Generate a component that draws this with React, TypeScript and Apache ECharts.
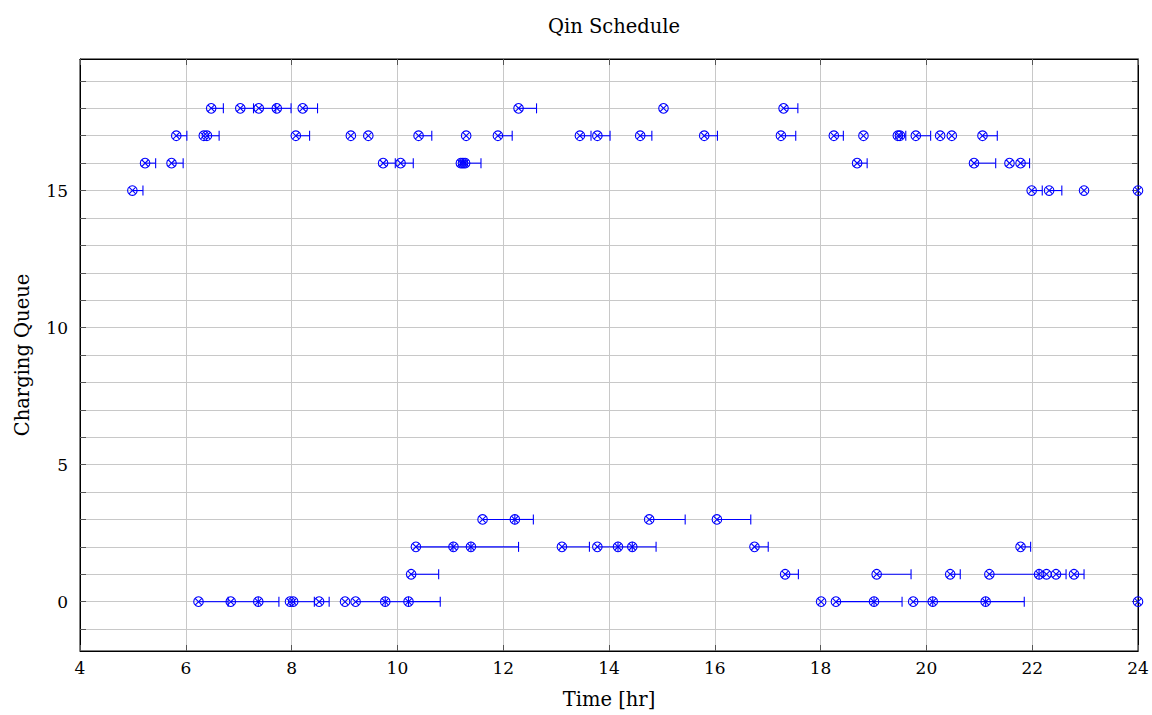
import React, { useEffect, useRef } from "react";
import * as echarts from "echarts";

// Each entry: [start time (hr), end time (hr)] for a given charging queue
const queue0: [number, number][] = [
  [6.24, 6.8], [6.85, 7.37], [7.37, 7.76], [7.97, 8.43], [8.03, 8.03],
  [8.52, 8.71], [9.01, 9.01], [9.21, 9.77], [9.77, 10.21], [10.21, 10.81],
  [18.01, 18.01], [18.29, 19.01], [19.01, 19.54], [19.75, 20.12],
  [20.12, 21.12], [21.12, 21.85], [24.0, 24.0],
];
const queue1: [number, number][] = [
  [10.26, 10.78], [17.33, 17.58], [19.06, 19.71], [20.45, 20.64],
  [21.19, 22.13], [22.13, 22.13], [22.27, 22.27], [22.45, 22.64], [22.79, 22.98],
];
const queue2: [number, number][] = [
  [10.35, 11.05], [11.06, 11.39], [11.39, 12.29], [13.11, 13.63],
  [13.78, 14.17], [14.17, 14.44], [14.44, 14.89], [16.75, 17.01], [21.78, 21.97],
];
const queue3: [number, number][] = [
  [11.61, 12.22], [12.22, 12.57], [14.76, 15.44], [16.04, 16.68],
];
const queue15: [number, number][] = [
  [4.99, 5.19], [21.99, 22.19], [22.32, 22.56], [22.98, 22.98], [24.0, 24.0],
];
const queue16: [number, number][] = [
  [5.23, 5.43], [5.73, 5.95], [9.73, 9.96], [10.06, 10.3], [11.2, 11.2],
  [11.24, 11.24], [11.28, 11.58], [18.69, 18.88], [20.9, 21.31],
  [21.57, 21.57], [21.78, 21.95],
];
const queue17: [number, number][] = [
  [5.82, 6.02], [6.34, 6.34], [6.4, 6.63], [8.08, 8.34], [9.12, 9.12],
  [9.45, 9.45], [10.4, 10.65], [11.3, 11.3], [11.9, 12.17], [13.45, 13.66],
  [13.78, 14.02], [14.59, 14.81], [15.8, 16.05], [17.25, 17.53],
  [18.25, 18.43], [18.81, 18.81], [19.46, 19.46], [19.5, 19.61],
  [19.8, 20.08], [20.26, 20.26], [20.48, 20.48], [21.06, 21.34],
];
const queue18: [number, number][] = [
  [6.48, 6.71], [7.03, 7.28], [7.38, 7.7], [7.72, 7.99], [8.21, 8.49],
  [12.29, 12.63], [15.03, 15.03], [17.3, 17.57],
];

const queues: [number, [number, number][]][] = [
  [0, queue0], [1, queue1], [2, queue2], [3, queue3],
  [15, queue15], [16, queue16], [17, queue17], [18, queue18],
];

const xTicks = [4, 6, 8, 10, 12, 14, 16, 18, 20, 22, 24];
const yLabelValues = [0, 5, 10, 15];
const yGridValues = [-1, 0, 1, 2, 3, 4, 5, 6, 7, 8, 9, 10, 11, 12, 13, 14, 15, 16, 17, 18, 19];

const FONT = "'DejaVu Serif', 'Liberation Serif', serif";
const BLUE = "#0000ff";

export default function App() {
  const ref = useRef<HTMLDivElement>(null);
  useEffect(() => {
    if (!ref.current) return;
    const chart = echarts.init(ref.current, undefined, { renderer: "svg" });
    const data: number[][] = [];
    queues.forEach(([q, arr]) => arr.forEach(([s, e]) => data.push([s, q, e])));

    const renderItem = (params: any, api: any) => {
      const x = api.value(0);
      const y = api.value(1);
      const xe = api.value(2);
      const p = api.coord([x, y]);
      const pe = api.coord([xe, y]);
      const r = 4.8;
      const d = r * 0.7071;
      const style = { stroke: BLUE, lineWidth: 1.1, fill: null };
      const children: any[] = [];
      if (xe > x) {
        children.push({ type: "line", shape: { x1: p[0], y1: p[1], x2: pe[0], y2: pe[1] }, style });
        children.push({ type: "line", shape: { x1: pe[0], y1: pe[1] - 5, x2: pe[0], y2: pe[1] + 5 }, style });
      }
      children.push({ type: "circle", shape: { cx: p[0], cy: p[1], r }, style: { stroke: BLUE, lineWidth: 1.1, fill: "rgba(255,255,255,0)" } });
      children.push({ type: "line", shape: { x1: p[0] - d, y1: p[1] - d, x2: p[0] + d, y2: p[1] + d }, style });
      children.push({ type: "line", shape: { x1: p[0] - d, y1: p[1] + d, x2: p[0] + d, y2: p[1] - d }, style });
      return { type: "group", children };
    };

    const yAxisBase = {
      type: "value",
      min: -1.8,
      max: 19.8,
      axisLine: { show: true, onZero: false, lineStyle: { color: "#000", width: 1 } },
      axisTick: { show: true, inside: true, length: 6, customValues: yGridValues, lineStyle: { color: "#555" } },
    };

    chart.setOption({
      animation: false,
      title: {
        text: "Qin Schedule",
        left: 609,
        textAlign: "center",
        top: 11,
        textStyle: { fontFamily: FONT, fontSize: 19.5, fontWeight: "normal", color: "#000" },
      },
      grid: {
        left: 80, right: 14, top: 59, bottom: 64,
        show: true, borderColor: "#000", borderWidth: 1, backgroundColor: "transparent",
      },
      xAxis: [
        {
          type: "value",
          min: 4, max: 24, interval: 2,
          position: "bottom",
          name: "Time [hr]",
          nameLocation: "middle",
          nameGap: 38,
          nameTextStyle: { fontFamily: FONT, fontSize: 19.5, color: "#000" },
          axisLine: { show: true, onZero: false, lineStyle: { color: "#000", width: 1 } },
          axisTick: { show: true, inside: true, length: 6, lineStyle: { color: "#555" } },
          axisLabel: {
            fontFamily: FONT, fontSize: 17, color: "#000", margin: 8,
            formatter: (v: number) => (xTicks.includes(Math.round(v)) ? String(Math.round(v)) : ""),
          },
          splitLine: { show: true, lineStyle: { color: "#c8c8c8", width: 1 } },
        },
        {
          type: "value",
          min: 4, max: 24, interval: 2,
          position: "top",
          axisLine: { show: true, onZero: false, lineStyle: { color: "#000", width: 1 } },
          axisTick: { show: true, inside: true, length: 6, lineStyle: { color: "#555" } },
          axisLabel: { show: false },
          splitLine: { show: false },
        },
      ],
      yAxis: [
        {
          ...yAxisBase,
          position: "left",
          name: "Charging Queue",
          nameLocation: "middle",
          nameGap: 48,
          nameRotate: 90,
          nameTextStyle: { fontFamily: FONT, fontSize: 19.5, color: "#000" },
          axisLabel: {
            fontFamily: FONT, fontSize: 17, color: "#000", margin: 12,
            customValues: yLabelValues,
            formatter: (v: number) => String(Math.round(v)),
          },
          splitLine: { show: true, lineStyle: { color: "#c8c8c8", width: 1 } },
        },
        {
          ...yAxisBase,
          position: "right",
          axisLabel: { show: false },
          splitLine: { show: false },
        },
      ],
      series: [
        {
          type: "custom",
          xAxisIndex: 0,
          yAxisIndex: 0,
          clip: false,
          renderItem,
          encode: { x: [0, 2], y: 1 },
          data,
          z: 10,
        },
      ],
    });
    return () => chart.dispose();
  }, []);
  return <div ref={ref} style={{ position: "fixed", left: 0, top: 0, width: 1152, height: 715, background: "#fff" }} />;
}
